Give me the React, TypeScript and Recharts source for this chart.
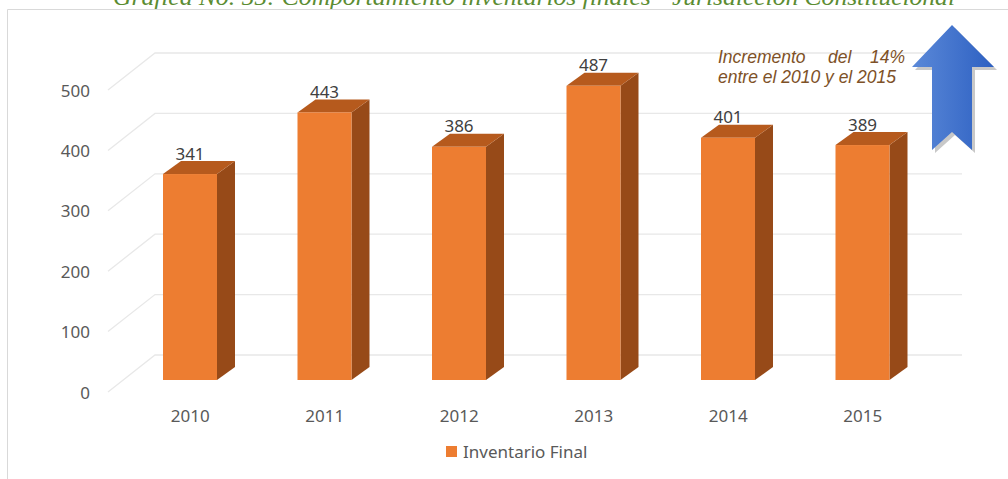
import { Bar, BarChart, CartesianGrid, LabelList, XAxis, YAxis } from "recharts";

const years = ["2010", "2011", "2012", "2013", "2014", "2015"];
const inventarioFinal = [341, 443, 386, 487, 401, 389];
const yTicks = [0, 100, 200, 300, 400, 500];

const chartData = years.map((year, i) => ({ year, value: inventarioFinal[i] }));

// 3D look: the plot area is the back wall, bars sit in front of it
const FRONT_DX = -32;
const FRONT_DY = 25;
const DEPTH_DX = 18;
const DEPTH_DY = -13;
const WALL_DX = -47;
const WALL_DY = 37;

const textFont = "'Noto Sans', sans-serif";
const axisGray = "#595959";

function Box3D(props: any) {
  const { x, y, width, height } = props;
  const fx = x + FRONT_DX;
  const fy = y + FRONT_DY;
  const top = `${fx},${fy} ${fx + width},${fy} ${fx + width + DEPTH_DX},${fy + DEPTH_DY} ${fx + DEPTH_DX},${fy + DEPTH_DY}`;
  const side = `${fx + width},${fy} ${fx + width + DEPTH_DX},${fy + DEPTH_DY} ${fx + width + DEPTH_DX},${fy + height + DEPTH_DY} ${fx + width},${fy + height}`;
  return (
    <g>
      <polygon points={side} fill="#974A18" />
      <polygon points={top} fill="#B65A1D" />
      <rect x={fx} y={fy} width={width} height={height} fill="#ED7D31" />
    </g>
  );
}

function GridLine3D(props: any) {
  const { x1, y1, x2, y2 } = props;
  return (
    <path
      key={`g-${y1}`}
      d={`M${x1 + WALL_DX},${y1 + WALL_DY} L${x1},${y1} L${x2},${y2}`}
      fill="none"
      stroke="#E8E8E8"
      strokeWidth={1.3}
    />
  );
}

function YTick(props: any) {
  const { y, payload } = props;
  return (
    <text x={90} y={y + WALL_DY} textAnchor="end" dominantBaseline="central" fill={axisGray} fontSize={17} fontFamily={textFont}>
      {payload.value}
    </text>
  );
}

function XTick(props: any) {
  const { x, payload } = props;
  return (
    <text x={x + FRONT_DX} y={415} textAnchor="middle" dominantBaseline="central" fill={axisGray} fontSize={17} fontFamily={textFont}>
      {payload.value}
    </text>
  );
}

function ValueLabel(props: any) {
  const { x, y, width, value } = props;
  return (
    <text x={x + FRONT_DX + width / 2} y={y + FRONT_DY - 21} textAnchor="middle" dominantBaseline="central" fill="#404040" fontSize={17} fontFamily={textFont}>
      {value}
    </text>
  );
}

export default function App() {
  return (
    <div style={{ position: "absolute", left: 0, top: 0, width: 1008, height: 479, overflow: "hidden", background: "#fff" }}>
      <svg width={1008} height={479} style={{ position: "absolute", left: 0, top: 0 }}>
        <defs>
          <linearGradient id="arrowFill" x1="0" y1="0" x2="1" y2="0">
            <stop offset="0" stopColor="#5B89D8" />
            <stop offset="1" stopColor="#2D60C2" />
          </linearGradient>
        </defs>
        <text
          x={534}
          y={5}
          textAnchor="middle"
          fill="#5B8C32"
          fontSize={24}
          fontStyle="italic"
          fontFamily="'Liberation Serif', serif"
          textLength={842}
          lengthAdjust="spacingAndGlyphs"
        >
          Gráfica No. 55: Comportamiento inventarios finales - Jurisdicción Constitucional
        </text>
        <path d="M7.5,479 L7.5,9.5 L1008,9.5" fill="none" stroke="#D9D9D9" strokeWidth={1} />
      </svg>
      <div style={{ position: "absolute", left: 0, top: 0 }}>
        <BarChart width={1008} height={479} data={chartData} margin={{ top: 53, right: 46, bottom: 64, left: 95 }}>
          <CartesianGrid vertical={false} horizontal={(p: any) => <GridLine3D {...p} />} />
          <XAxis dataKey="year" axisLine={false} tickLine={false} height={60} tick={<XTick />} interval={0} />
          <YAxis domain={[0, 500]} ticks={yTicks} axisLine={false} tickLine={false} width={60} tick={<YTick />} />
          <Bar dataKey="value" barSize={54} shape={<Box3D />} isAnimationActive={false}>
            <LabelList dataKey="value" content={<ValueLabel />} />
          </Bar>
        </BarChart>
      </div>
      <svg width={1008} height={479} style={{ position: "absolute", left: 0, top: 0, pointerEvents: "none" }}>
        <g fill="#7E5127" fontSize={17.5} fontStyle="italic" fontFamily="'Liberation Sans', Arial, sans-serif">
          <text x={718} y={63}>Incremento</text>
          <text x={828} y={63}>del</text>
          <text x={905} y={63} textAnchor="end">14%</text>
          <text x={718} y={83}>entre el 2010 y el 2015</text>
        </g>
        <polygon points="955,28 997,70 975,70 975,153 955,135 935,153 935,70 915,70" fill="#9A9A9A" opacity={0.55} />
        <polygon points="952,25 994,67 972,67 972,150 952,132 932,150 932,67 912,67" fill="url(#arrowFill)" />
      </svg>
      <div
        style={{
          position: "absolute",
          left: 446,
          top: 440,
          display: "flex",
          alignItems: "center",
          gap: 6,
          fontFamily: textFont,
          fontSize: 17,
          color: axisGray
        }}
      >
        <span style={{ display: "inline-block", width: 11, height: 11, background: "#ED7D31" }} />
        <span>Inventario Final</span>
      </div>
    </div>
  );
}
